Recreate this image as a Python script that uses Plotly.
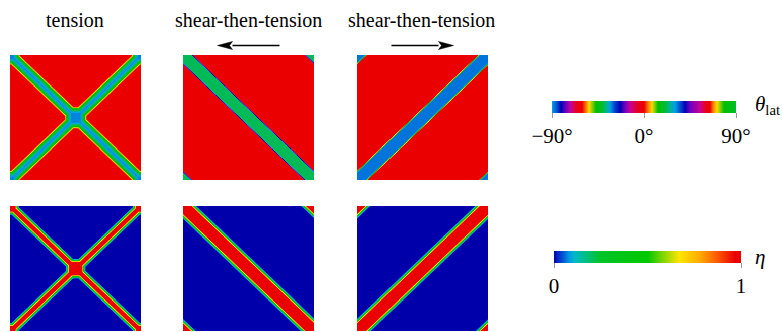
import numpy as np
import plotly.graph_objects as go

FIG_W, FIG_H = 782, 332
SERIF = "Liberation Serif"

# ---- panel layout (pixels) -------------------------------------------------
panel_w, panel_h = 131, 125
col_left = [10, 183, 357]
row_top = [55, 206]

titles = ["tension", "shear-then-tension", "shear-then-tension"]
title_x = [75, 248, 422]
arrow_dir = [0, -1, 1]          # shear direction drawn above each column

# ---- band profiles: value vs. perpendicular distance from band centre (px) --
tension_theta_d = [0, 1.5, 2.5, 3.5, 4.5, 5.3, 6.0, 6.6]
tension_theta_v = [32, 28, 22, 18, 15, 9, 3, 0]
tension_eta_d = [0, 1.7, 2.6, 3.5, 4.5, 5.5]
tension_eta_v = [1, 1, 0.7, 0.4, 0.15, 0]
tension_box = 4.5               # half size of the square where the bands cross
corner_box = 3.5

shearL_theta_d = [0, 5.6, 6.4, 7.3]
shearL_theta_v = [-39, -39, -20, 0]
shearR_theta_d = [0, 5.4, 6.2, 7.1]
shearR_theta_v = [33, 33, 18, 0]
shear_eta_d = [0, 5.5, 6.5, 7.5, 8.5, 9.5]
shear_eta_v = [1, 1, 0.65, 0.35, 0.12, 0]

theta_tickvals = [-90, 0, 90]
theta_ticktext = ["\u221290\u00b0", "0\u00b0", "90\u00b0"]
eta_tickvals = [0, 1]
eta_ticktext = ["0", "1"]

# ---- colour maps -----------------------------------------------------------
theta_stops = [
    (0, "rgb(0,160,230)"), (5, "rgb(0,80,210)"), (9, "rgb(0,0,180)"),
    (14, "rgb(110,0,190)"), (19, "rgb(200,0,150)"), (24, "rgb(230,0,30)"),
    (30, "rgb(235,0,0)"), (34, "rgb(250,120,0)"), (37, "rgb(250,220,0)"),
    (44, "rgb(0,190,0)"), (50, "rgb(0,190,40)"), (55, "rgb(0,180,150)"),
    (58, "rgb(0,160,230)"), (62, "rgb(0,80,210)"), (68, "rgb(0,0,180)"),
    (73, "rgb(110,0,190)"), (78, "rgb(200,0,150)"), (86, "rgb(230,0,30)"),
    (92, "rgb(235,0,0)"), (96, "rgb(250,120,0)"), (100, "rgb(250,220,0)"),
    (106, "rgb(0,190,0)"), (112, "rgb(0,190,40)"), (118, "rgb(0,180,150)"),
    (123, "rgb(0,160,230)"), (128, "rgb(0,80,210)"), (133, "rgb(0,0,180)"),
    (138, "rgb(110,0,190)"), (148, "rgb(200,0,150)"), (153, "rgb(230,0,30)"),
    (158, "rgb(235,0,0)"), (161, "rgb(250,120,0)"), (165, "rgb(250,220,0)"),
    (172, "rgb(0,190,0)"), (184, "rgb(0,190,40)"),
]
theta_scale = [[p / 184, c] for p, c in theta_stops]

eta_scale = [
    [0.0, "rgb(0,0,170)"], [0.02, "rgb(0,40,195)"], [0.045, "rgb(0,80,210)"],
    [0.08, "rgb(0,150,225)"], [0.11, "rgb(0,185,200)"], [0.17, "rgb(0,190,130)"],
    [0.25, "rgb(0,195,40)"], [0.5, "rgb(0,200,0)"], [0.57, "rgb(110,210,0)"],
    [0.67, "rgb(255,230,0)"], [0.78, "rgb(255,170,0)"], [0.86, "rgb(255,100,0)"],
    [0.97, "rgb(235,0,0)"], [1.0, "rgb(235,0,0)"],
]

# ---- fields ----------------------------------------------------------------
nx, ny = 2 * panel_w, 2 * panel_h
xs = np.linspace(0, panel_w, nx)
ys = np.linspace(0, panel_h, ny)
X, Y = np.meshgrid(xs, ys)
L = np.hypot(panel_w, panel_h)


def diag_dist(X, Y):
    """distance to the bottom-left/top-right diagonal and its periodic images"""
    return np.min([np.abs((X - s) * panel_h - Y * panel_w) / L
                   for s in (-panel_w, 0, panel_w)], axis=0)


def anti_dist(X, Y):
    """distance to the top-left/bottom-right diagonal and its periodic images"""
    return np.min([np.abs((X - s) * panel_h + Y * panel_w - panel_w * panel_h) / L
                   for s in (-panel_w, 0, panel_w)], axis=0)


def box_dist(X, Y, cx, cy, b):
    qx = np.maximum(np.abs(X - cx) - b, 0)
    qy = np.maximum(np.abs(Y - cy) - b, 0)
    return np.hypot(qx, qy)


d_tension = np.minimum(diag_dist(X, Y), anti_dist(X, Y))
d_tension = np.minimum(d_tension, box_dist(X, Y, panel_w / 2, panel_h / 2, tension_box))
for cx in (0, panel_w):
    for cy in (0, panel_h):
        d_tension = np.minimum(d_tension, box_dist(X, Y, cx, cy, corner_box))
d_left = anti_dist(X, Y)
d_right = diag_dist(X, Y)

theta_fields = [
    np.interp(d_tension, tension_theta_d, tension_theta_v),
    np.interp(d_left, shearL_theta_d, shearL_theta_v),
    np.interp(d_right, shearR_theta_d, shearR_theta_v),
]
eta_fields = [
    np.interp(d_tension, tension_eta_d, tension_eta_v),
    np.interp(d_left, shear_eta_d, shear_eta_v),
    np.interp(d_right, shear_eta_d, shear_eta_v),
]

# ---- figure ----------------------------------------------------------------
fig = go.Figure()
layout_axes = {}
k = 0
for r, fields in enumerate([theta_fields, eta_fields]):
    for c in range(3):
        k += 1
        xa = "x" if k == 1 else f"x{k}"
        ya = "y" if k == 1 else f"y{k}"
        fig.add_trace(go.Heatmap(
            x=xs, y=ys, z=fields[c].astype(np.float32),
            coloraxis="coloraxis" if r == 0 else "coloraxis2",
            xaxis=xa, yaxis=ya, zsmooth=False, hoverinfo="skip",
        ))
        x0 = col_left[c] / FIG_W
        x1 = (col_left[c] + panel_w) / FIG_W
        y1 = 1 - row_top[r] / FIG_H
        y0 = 1 - (row_top[r] + panel_h) / FIG_H
        ax_style = dict(visible=False, showgrid=False, zeroline=False, fixedrange=True)
        layout_axes["xaxis" if k == 1 else f"xaxis{k}"] = dict(
            domain=[x0, x1], range=[0, panel_w], anchor=ya, **ax_style)
        layout_axes["yaxis" if k == 1 else f"yaxis{k}"] = dict(
            domain=[y0, y1], range=[0, panel_h], anchor=xa, **ax_style)

tickfont = dict(family=SERIF, size=21, color="black")
cbar_common = dict(orientation="h", xanchor="center", yanchor="top",
                   lenmode="fraction", thickness=12, thicknessmode="pixels",
                   outlinewidth=0, ticks="outside", ticklen=5, tickwidth=1,
                   tickcolor="#9a9a9a", tickfont=tickfont, xpad=0, ypad=0)

fig.update_layout(
    width=FIG_W, height=FIG_H,
    margin=dict(l=0, r=0, t=0, b=0),
    paper_bgcolor="white", plot_bgcolor="white",
    font=dict(family=SERIF, color="black"),
    showlegend=False,
    coloraxis=dict(colorscale=theta_scale, cmin=-90, cmax=90,
                   colorbar=dict(x=644 / FIG_W, y=1 - 101 / FIG_H, len=184 / FIG_W,
                                 tickvals=theta_tickvals, ticktext=theta_ticktext,
                                 **cbar_common)),
    coloraxis2=dict(colorscale=eta_scale, cmin=0, cmax=1,
                    colorbar=dict(x=647.5 / FIG_W, y=1 - 251 / FIG_H, len=187 / FIG_W,
                                  tickvals=eta_tickvals, ticktext=eta_ticktext,
                                  **cbar_common)),
    **layout_axes,
)

annotations = []
for c in range(3):
    annotations.append(dict(
        text=titles[c], x=title_x[c] / FIG_W, y=1 - 20 / FIG_H,
        xref="paper", yref="paper", xanchor="center", yanchor="middle",
        showarrow=False, font=dict(family=SERIF, size=20, color="black")))
annotations.append(dict(
    text="<i>\u03b8</i><sub>lat</sub>", x=753 / FIG_W, y=1 - 105 / FIG_H,
    xref="paper", yref="paper", xanchor="left", yanchor="middle",
    showarrow=False, font=dict(family=SERIF, size=21, color="black")))
annotations.append(dict(
    text="<i>\u03b7</i>", x=753 / FIG_W, y=1 - 257 / FIG_H,
    xref="paper", yref="paper", xanchor="left", yanchor="middle",
    showarrow=False, font=dict(family=SERIF, size=21, color="black")))
fig.update_layout(annotations=annotations)

# shear-direction arrows above the shear columns
shapes = []
arrow_y = 45.5
arrow_len, head_len, head_half = 62, 15, 4


def px(v):
    return v / FIG_W


def py(v):
    return 1 - v / FIG_H


for c in range(3):
    if arrow_dir[c] == 0:
        continue
    mid = col_left[c] + panel_w / 2
    tail = mid - arrow_dir[c] * arrow_len / 2
    tip = mid + arrow_dir[c] * arrow_len / 2
    base = tip - arrow_dir[c] * head_len
    shapes.append(dict(type="line", xref="paper", yref="paper",
                       x0=px(tail), x1=px(base), y0=py(arrow_y), y1=py(arrow_y),
                       line=dict(color="black", width=1.4)))
    shapes.append(dict(type="path", xref="paper", yref="paper",
                       path=f"M{px(tip)},{py(arrow_y)} L{px(base)},{py(arrow_y - head_half)} "
                            f"L{px(base + arrow_dir[c] * 3)},{py(arrow_y)} "
                            f"L{px(base)},{py(arrow_y + head_half)} Z",
                       fillcolor="black", line=dict(color="black", width=0.5)))
fig.update_layout(shapes=shapes)

fig.write_html("out.html")
